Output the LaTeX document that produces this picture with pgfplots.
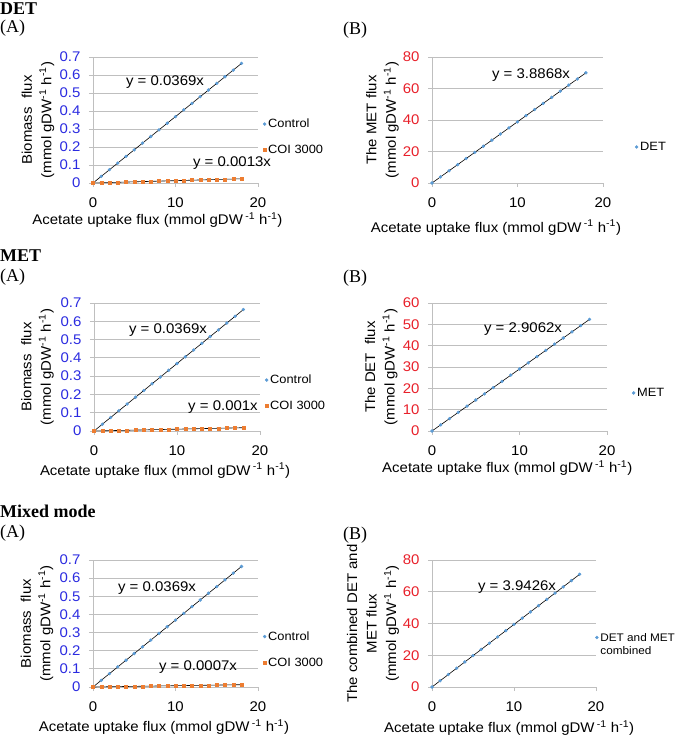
\documentclass[border=0pt]{standalone}
\usepackage{fontspec}
\setmainfont{Liberation Sans}[FakeStretch=1.07]
\newfontfamily\seriffont{Liberation Serif}
\usepackage{pgfplots}
\usepackage{pgfplotstable}
\pgfplotsset{compat=1.18}
\definecolor{ctrlblue}{HTML}{5B9BD5}
\definecolor{coiorange}{HTML}{ED7D31}
\definecolor{gridgray}{HTML}{BFBFBF}
\definecolor{tickblue}{HTML}{2B2BE0}
\definecolor{tickred}{HTML}{E8202A}

\pgfplotstableread{
x  ctrl   coiDET coiMET coiMix detB    metB    mixB
0  0      0      0      0      0       0       0
1  0.0369 0.0013 0.001  0.0007 3.8868  2.9062  3.9426
2  0.0738 0.0026 0.002  0.0014 7.7736  5.8124  7.8852
3  0.1107 0.0039 0.003  0.0021 11.6604 8.7186  11.8278
4  0.1476 0.0052 0.004  0.0028 15.5472 11.6248 15.7704
5  0.1845 0.0065 0.005  0.0035 19.4340 14.5310 19.7130
6  0.2214 0.0078 0.006  0.0042 23.3208 17.4372 23.6556
7  0.2583 0.0091 0.007  0.0049 27.2076 20.3434 27.5982
8  0.2952 0.0104 0.008  0.0056 31.0944 23.2496 31.5408
9  0.3321 0.0117 0.009  0.0063 34.9812 26.1558 35.4834
10 0.3690 0.0130 0.010  0.0070 38.8680 29.0620 39.4260
11 0.4059 0.0143 0.011  0.0077 42.7548 31.9682 43.3686
12 0.4428 0.0156 0.012  0.0084 46.6416 34.8744 47.3112
13 0.4797 0.0169 0.013  0.0091 50.5284 37.7806 51.2538
14 0.5166 0.0182 0.014  0.0098 54.4152 40.6868 55.1964
15 0.5535 0.0195 0.015  0.0105 58.3020 43.5930 59.1390
16 0.5904 0.0208 0.016  0.0112 62.1888 46.4992 63.0816
17 0.6273 0.0221 0.017  0.0119 66.0756 49.4054 67.0242
18 0.6642 0.0234 0.018  0.0126 69.9624 52.3116 70.9668
}\fluxdata

\newcommand{\unitlab}{(mmol gDW\textsuperscript{-1} h\textsuperscript{-1})}
\newcommand{\xlab}{Acetate uptake flux (mmol gDW\,\textsuperscript{-1} h\textsuperscript{-1})}

\tikzset{
  eq/.style={font=\fontsize{14}{16}\selectfont, inner sep=0pt},
  head/.style={anchor=base west, inner sep=0pt, font=\seriffont\fontsize{18}{20}\selectfont},
  headb/.style={head, font=\seriffont\bfseries\fontsize{18}{20}\selectfont},
}

\pgfplotsset{
  panel/.style={
    scale only axis, anchor=south west, clip=false,
    xmin=0, xmax=20, xtick={0,10,20}, xticklabels={0,10,20}, ymin=0,
    axis x line=bottom, axis y line=left,
    axis line style={-, draw=gridgray, line width=0.8pt},
    ymajorgrids, grid style={draw=gridgray, line width=0.8pt},
    tick align=outside, major tick length=4pt,
    every tick/.style={draw=gridgray, line width=0.8pt},
    tick label style={font=\fontsize{14}{16}\selectfont},
    yticklabel style={xshift=-5pt},
    xticklabel style={yshift=-7pt},
    /pgf/number format/assume math mode=true,
    label style={font=\fontsize{14}{19.5}\selectfont},
    ylabel style={align=center, anchor=center},
    xlabel style={anchor=base},
    legend style={draw=none, fill=none, font=\fontsize{12}{14}\selectfont,
      anchor=west, inner sep=0pt, row sep=12pt},
    legend cell align=left,
    legend image code/.code={\draw[mark repeat=2,mark phase=2] plot coordinates {(0pt,0pt)(3pt,0pt)(6pt,0pt)};},
  },
  panelA/.style={panel, ymax=0.7, ytick={0,0.1,0.2,0.3,0.4,0.5,0.6,0.7},
    yticklabels={0,0.1,0.2,0.3,0.4,0.5,0.6,0.7}, yticklabel style={text=tickblue},
    ylabel={Biomass\ \ flux\\\unitlab}, xlabel={\xlab}},
  panelB/.style={panel, yticklabel style={text=tickred}, xlabel={\xlab}},
  ctrl/.style={only marks, mark=*, mark size=1.5pt, color=ctrlblue},
  coi/.style={only marks, mark=square*, mark size=1.5pt, color=coiorange},
  trend/.style={black, line width=0.6pt, forget plot},
}

\begin{document}
\begin{tikzpicture}
\useasboundingbox (0pt,0pt) rectangle (685pt,740pt);

% headings
\node[headb] at (0pt,725pt) {DET};
\node[head] at (0pt,707pt) {(A)};
\node[head] at (343pt,705pt) {(B)};
\node[headb] at (0pt,478pt) {MET};
\node[head] at (0pt,458pt) {(A)};
\node[head] at (343pt,457pt) {(B)};
\node[headb] at (0pt,222pt) {Mixed mode};
\node[head] at (0pt,202pt) {(A)};
\node[head] at (343pt,200pt) {(B)};

% ---------- DET (A)
\begin{axis}[panelA, at={(93pt,557pt)}, width=165pt, height=126pt,
  ylabel style={at={(rel axis cs:-0.333,0.5)}},
  xlabel style={at={(rel axis cs:0.39,-0.333)}},
  legend style={at={(rel axis cs:1.03,0.365)}}]
\addplot[ctrl] table[x=x,y=ctrl] {\fluxdata};
\addlegendentry{Control}
\addplot[coi] table[x=x,y=coiDET] {\fluxdata};
\addlegendentry{COI 3000}
\addplot[trend] coordinates {(0,0) (18,0.6642)};
\addplot[trend] coordinates {(0,0) (18,0.0234)};
\node[eq] at (axis cs:8.73,0.561) {y = 0.0369x};
\node[eq] at (axis cs:16.85,0.111) {y = 0.0013x};
\end{axis}

% ---------- DET (B)
\begin{axis}[panelB, at={(432pt,557pt)}, width=171pt, height=126pt,
  ymax=80, ytick={0,20,40,60,80}, yticklabels={0,20,40,60,80},
  ylabel={The MET flux\\\unitlab},
  ylabel style={at={(rel axis cs:-0.29,0.5)}},
  xlabel style={at={(rel axis cs:0.374,-0.389)}},
  legend style={at={(rel axis cs:1.187,0.286)}}]
\addplot[ctrl] table[x=x,y=detB] {\fluxdata};
\addlegendentry{DET}
\addplot[trend] coordinates {(0,0) (18,69.9624)};
\node[eq] at (axis cs:11.58,68.6) {y = 3.8868x};
\end{axis}

% ---------- MET (A)
\begin{axis}[panelA, at={(94pt,309pt)}, width=166pt, height=128pt,
  ylabel style={at={(rel axis cs:-0.34,0.5)}},
  xlabel style={at={(rel axis cs:0.428,-0.344)}},
  legend style={at={(rel axis cs:1.03,0.297)}}]
\addplot[ctrl] table[x=x,y=ctrl] {\fluxdata};
\addlegendentry{Control}
\addplot[coi] table[x=x,y=coiMET] {\fluxdata};
\addlegendentry{COI 3000}
\addplot[trend] coordinates {(0,0) (18,0.6642)};
\addplot[trend] coordinates {(0,0) (18,0.018)};
\node[eq] at (axis cs:8.92,0.552) {y = 0.0369x};
\node[eq] at (axis cs:15.54,0.131) {y = 0.001x};
\end{axis}

% ---------- MET (B)
\begin{axis}[panelB, at={(432pt,309pt)}, width=175pt, height=128pt,
  ymax=60, ytick={0,10,20,30,40,50,60}, yticklabels={0,10,20,30,40,50,60},
  ylabel={The DET\ \ flux\\\unitlab},
  ylabel style={at={(rel axis cs:-0.29,0.5)}},
  xlabel style={at={(rel axis cs:0.43,-0.328)}},
  legend style={at={(rel axis cs:1.143,0.297)}}]
\addplot[ctrl] table[x=x,y=metB] {\fluxdata};
\addlegendentry{MET}
\addplot[trend] coordinates {(0,0) (18,52.3116)};
\node[eq] at (axis cs:10.4,47.8) {y = 2.9062x};
\end{axis}

% ---------- Mixed (A)
\begin{axis}[panelA, at={(93pt,53pt)}, width=165pt, height=127pt,
  ylabel style={at={(rel axis cs:-0.34,0.5)}},
  xlabel style={at={(rel axis cs:0.43,-0.354)}},
  legend style={at={(rel axis cs:1.03,0.295)}}]
\addplot[ctrl] table[x=x,y=ctrl] {\fluxdata};
\addlegendentry{Control}
\addplot[coi] table[x=x,y=coiMix] {\fluxdata};
\addlegendentry{COI 3000}
\addplot[trend] coordinates {(0,0) (18,0.6642)};
\addplot[trend] coordinates {(0,0) (18,0.0126)};
\node[eq] at (axis cs:7.76,0.546) {y = 0.0369x};
\node[eq] at (axis cs:12.73,0.110) {y = 0.0007x};
\end{axis}

% ---------- Mixed (B)
\begin{axis}[panelB, at={(432pt,53pt)}, width=164pt, height=127pt,
  ymax=80, ytick={0,20,40,60,80}, yticklabels={0,20,40,60,80},
  ylabel={The combined DET and\\MET flux\\\unitlab},
  ylabel style={at={(rel axis cs:-0.36,0.5)}},
  xlabel style={at={(rel axis cs:0.47,-0.362)}},
  legend style={at={(rel axis cs:0.995,0.39)}, font=\fontsize{11}{13}\selectfont}]
\addplot[ctrl] table[x=x,y=mixB] {\fluxdata};
\addlegendentry{\begin{tabular}[t]{@{}l@{}}DET and MET\\combined\end{tabular}}
\addplot[trend] coordinates {(0,0) (18,70.9668)};
\node[eq] at (axis cs:10.37,63) {y = 3.9426x};
\end{axis}
\end{tikzpicture}
\end{document}
